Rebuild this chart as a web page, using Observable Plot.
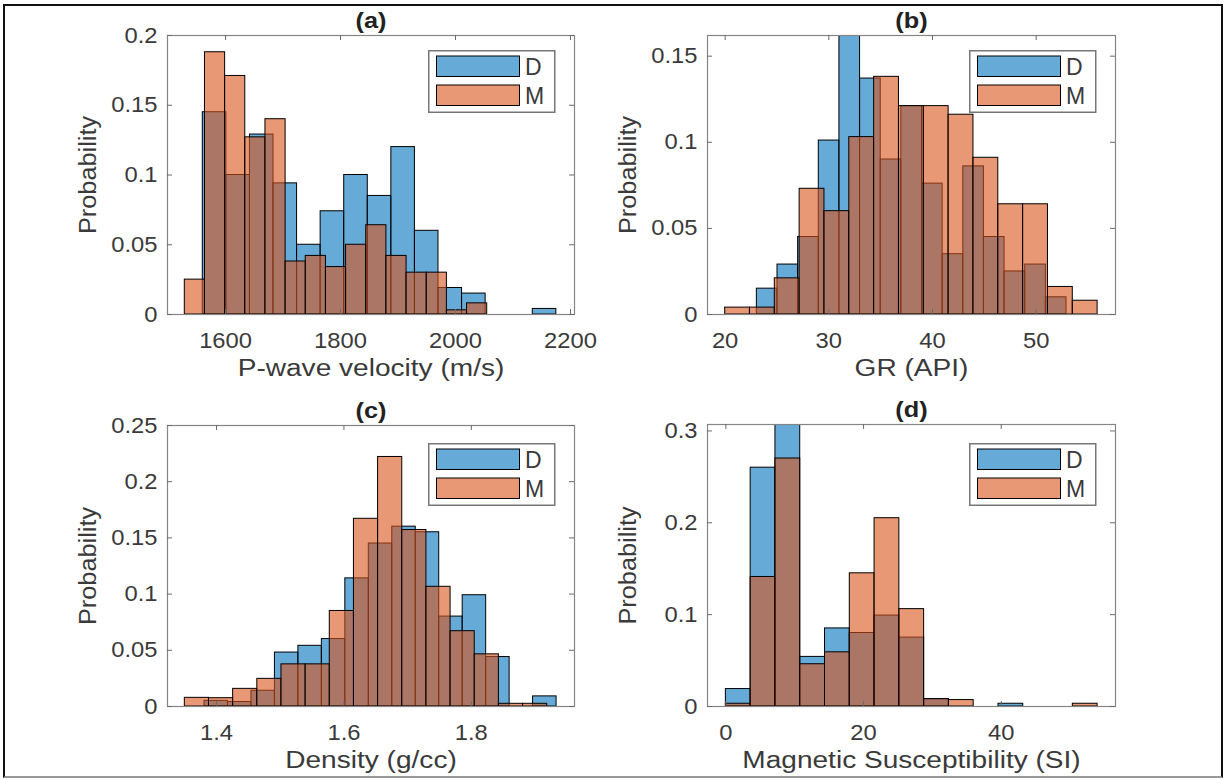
<!DOCTYPE html>
<html>
<head>
<meta charset="utf-8">
<script src="https://cdn.jsdelivr.net/npm/d3@7"></script>
<script src="https://cdn.jsdelivr.net/npm/@observablehq/plot@0.6"></script>
<style>
  html, body { margin: 0; padding: 0; background: #fff; }
  #fig { position: relative; width: 1229px; height: 780px; overflow: hidden; background: #fff;
         font-family: "Liberation Sans", Arial, sans-serif; }
  .border { position: absolute; left: 3px; top: 4px; width: 1220px; height: 774px; box-sizing: border-box;
            border: 2px solid #111; border-bottom-color: #9a9a9a; }
  .panel { position: absolute; }
  .legend { position: absolute; }
</style>
</head>
<body>
<div id="fig"><div class="border"></div></div>
<script>
// ---------------- DATA ----------------
// Panel (a): P-wave velocity (m/s)
const aStartD = 1560.4, aWidthD = 41.0;
const aD = [0.145, 0.100, 0.129, 0.094, 0.050, 0.074, 0.100, 0.085, 0.120, 0.060, 0.019, 0.015, 0, 0, 0.004];
const aStartM = 1529.1, aWidthM = 35.07;
const aM = [0.025, 0.188, 0.171, 0.127, 0.140, 0.038, 0.042, 0.034, 0.050, 0.064, 0.042, 0.030, 0.030, 0.003, 0.008];
const aXTicks = [1600, 1800, 2000, 2200];
const aYTicks = [0, 0.05, 0.1, 0.15, 0.2];

// Panel (b): GR (API)
const bStartD = 23.06, bWidthD = 1.991;
const bD = [0.015, 0.029, 0.045, 0.101, 0.162, 0.137, 0.090, 0.121, 0.076, 0.035, 0.086, 0.045, 0.025, 0.029, 0.010];
const bStartM = 20.0, bWidthM = 2.395;
const bM = [0.004, 0.004, 0.021, 0.073, 0.060, 0.103, 0.138, 0.121, 0.121, 0.116, 0.091, 0.064, 0.064, 0.016, 0.008];
const bXTicks = [20, 30, 40, 50];
const bYTicks = [0, 0.05, 0.1, 0.15];

// Panel (c): Density (g/cc)
const cStartD = 1.3811, cWidthD = 0.03685;
const cD = [0.005, 0.004, 0.014, 0.048, 0.054, 0.060, 0.114, 0.145, 0.160, 0.155, 0.080, 0.099, 0.044, 0, 0.009];
const cStartM = 1.3502, cWidthM = 0.03793;
const cM = [0.0077, 0.0074, 0.0157, 0.0246, 0.0375, 0.0375, 0.085, 0.167, 0.222, 0.157, 0.1065, 0.067, 0.0464, 0.0024, 0.0024];
const cXTicks = [1.4, 1.6, 1.8];
const cYTicks = [0, 0.05, 0.1, 0.15, 0.2, 0.25];

// Panel (d): Magnetic Susceptibility (SI)
const dStartD = 0, dWidthD = 3.6;
const dD = [0.019, 0.260, 0.307, 0.054, 0.085, 0.080, 0.099, 0.075, 0.008, 0, 0, 0.003, 0, 0, 0];
const dStartM = 0, dWidthM = 3.6;
const dM = [0.003, 0.141, 0.270, 0.046, 0.059, 0.145, 0.205, 0.106, 0.008, 0.007, 0, 0, 0, 0, 0.003];
const dXTicks = [0, 20, 40];
const dYTicks = [0, 0.1, 0.2, 0.3];

const seriesNames = ["D", "M"];
const titles = ["(a)", "(b)", "(c)", "(d)"];
const xLabels = ["P-wave velocity (m/s)", "GR (API)", "Density (g/cc)", "Magnetic Susceptibility (SI)"];
const yLabel = "Probability";

// ---------------- STYLE / LAYOUT ----------------
const COLORS = {D: "#0072BD", M: "#D95319"};
const FONT = "'Liberation Sans', Arial, Helvetica, sans-serif";
const ML = 110, MR = 30, MT = 45, MB = 80;

function bins(start, width, values) {
  return values.map((p, i) => ({x1: start + i * width, x2: start + (i + 1) * width, p}));
}

const panels = [
  {frame: [167, 35, 574, 314], xDomain: [1499, 2207], yDomain: [0, 0.2],
   xTicks: aXTicks, yTicks: aYTicks, D: bins(aStartD, aWidthD, aD), M: bins(aStartM, aWidthM, aM), legendDy: 15},
  {frame: [707, 35, 1115, 314], xDomain: [18.3, 57.65], yDomain: [0, 0.162],
   xTicks: bXTicks, yTicks: bYTicks, D: bins(bStartD, bWidthD, bD), M: bins(bStartM, bWidthM, bM), legendDy: 15},
  {frame: [167, 425, 574, 706], xDomain: [1.323, 1.962], yDomain: [0, 0.25],
   xTicks: cXTicks, yTicks: cYTicks, D: bins(cStartD, cWidthD, cD), M: bins(cStartM, cWidthM, cM), legendDy: 17.5},
  {frame: [707, 424, 1115, 706], xDomain: [-2.67, 56.6], yDomain: [0, 0.307],
   xTicks: dXTicks, yTicks: dYTicks, D: bins(dStartD, dWidthD, dD), M: bins(dStartM, dWidthM, dM), legendDy: 18.5}
];

const fig = document.getElementById("fig");

function stretch(el, factor) {
  const len = el.getComputedTextLength();
  el.setAttribute("textLength", (len * factor).toFixed(2));
  el.setAttribute("lengthAdjust", "spacingAndGlyphs");
}

panels.forEach((cfg, k) => {
  const [L, T, R, B] = cfg.frame;
  const W = R - L, H = B - T;
  const fmt = d => String(d);
  const plot = Plot.plot({
    width: W + ML + MR,
    height: H + MT + MB,
    marginLeft: ML, marginRight: MR, marginTop: MT, marginBottom: MB,
    x: {domain: cfg.xDomain},
    y: {domain: cfg.yDomain},
    style: {background: "transparent", fontFamily: FONT, fontSize: "22px", color: "#3a3a3a",
            overflow: "visible", maxWidth: "none"},
    marks: [
      Plot.rect(cfg.D, {x1: "x1", x2: "x2", y1: 0, y2: "p", fill: COLORS.D, fillOpacity: 0.6,
                        stroke: "#000", strokeWidth: 1, clip: true}),
      Plot.rect(cfg.M, {x1: "x1", x2: "x2", y1: 0, y2: "p", fill: COLORS.M, fillOpacity: 0.6,
                        stroke: "#000", strokeWidth: 1, clip: true}),
      Plot.frame({stroke: "#858585", strokeWidth: 1.2}),
      Plot.tickX(cfg.xTicks, {x: d => d, insetTop: H - 5, stroke: "#6a6a6a"}),
      Plot.tickX(cfg.xTicks, {x: d => d, insetBottom: H - 5, stroke: "#6a6a6a"}),
      Plot.tickY(cfg.yTicks, {y: d => d, insetRight: W - 5, stroke: "#6a6a6a"}),
      Plot.tickY(cfg.yTicks, {y: d => d, insetLeft: W - 5, stroke: "#6a6a6a"}),
      Plot.axisX(cfg.xTicks, {tickSize: 0, tickPadding: 17.5, label: null, tickFormat: fmt,
                              fontSize: 22, fill: "#3a3a3a"}),
      Plot.axisY(cfg.yTicks, {tickSize: 0, tickPadding: 10, label: null, tickFormat: fmt,
                              fontSize: 22, fill: "#3a3a3a"}),
      Plot.text([titles[k]], {text: d => d, frameAnchor: "top", dy: -15, lineAnchor: "middle",
                              textAnchor: "middle", fontWeight: "bold", fontSize: 22, fill: "#222"}),
      Plot.text([xLabels[k]], {text: d => d, frameAnchor: "bottom", dy: 54, lineAnchor: "middle",
                               textAnchor: "middle", fontSize: 23, fill: "#3a3a3a"}),
      Plot.text([yLabel], {text: d => d, frameAnchor: "left", dx: -79, rotate: -90, lineAnchor: "middle",
                           textAnchor: "middle", fontSize: 23, fill: "#3a3a3a"})
    ]
  });
  const holder = document.createElement("div");
  holder.className = "panel";
  holder.style.left = (L - ML) + "px";
  holder.style.top = (T - MT) + "px";
  holder.appendChild(plot);
  fig.appendChild(holder);

  // widen glyphs slightly, as in the reference rendering
  plot.querySelectorAll("text").forEach(t => {
    const s = t.textContent;
    if (s === xLabels[k]) stretch(t, 1.22);
    else if (s === yLabel) stretch(t, 1.10);
    else if (s === titles[k]) stretch(t, 1.15);
    else stretch(t, 1.08);
  });

  // legend box in the upper right of the axes
  const lg = document.createElement("div");
  lg.className = "legend";
  lg.style.left = (R - 146) + "px";
  lg.style.top = (T + cfg.legendDy) + "px";
  const svg = d3.create("svg").attr("width", 130).attr("height", 66);
  svg.append("rect").attr("x", 0.75).attr("y", 0.75).attr("width", 126).attr("height", 61.5)
     .attr("fill", "#fff").attr("stroke", "#777").attr("stroke-width", 1.5);
  seriesNames.forEach((name, i) => {
    svg.append("rect").attr("x", 8.5).attr("y", 6 + 29 * i).attr("width", 83).attr("height", 20.5)
       .attr("fill", COLORS[name]).attr("fill-opacity", 0.6).attr("stroke", "#000").attr("stroke-width", 1);
    svg.append("text").attr("x", 97).attr("y", 16.5 + 29 * i).attr("dy", "0.35em")
       .attr("font-family", FONT).attr("font-size", 23).attr("fill", "#3a3a3a").text(name);
  });
  lg.appendChild(svg.node());
  fig.appendChild(lg);
});
</script>
</body>
</html>
